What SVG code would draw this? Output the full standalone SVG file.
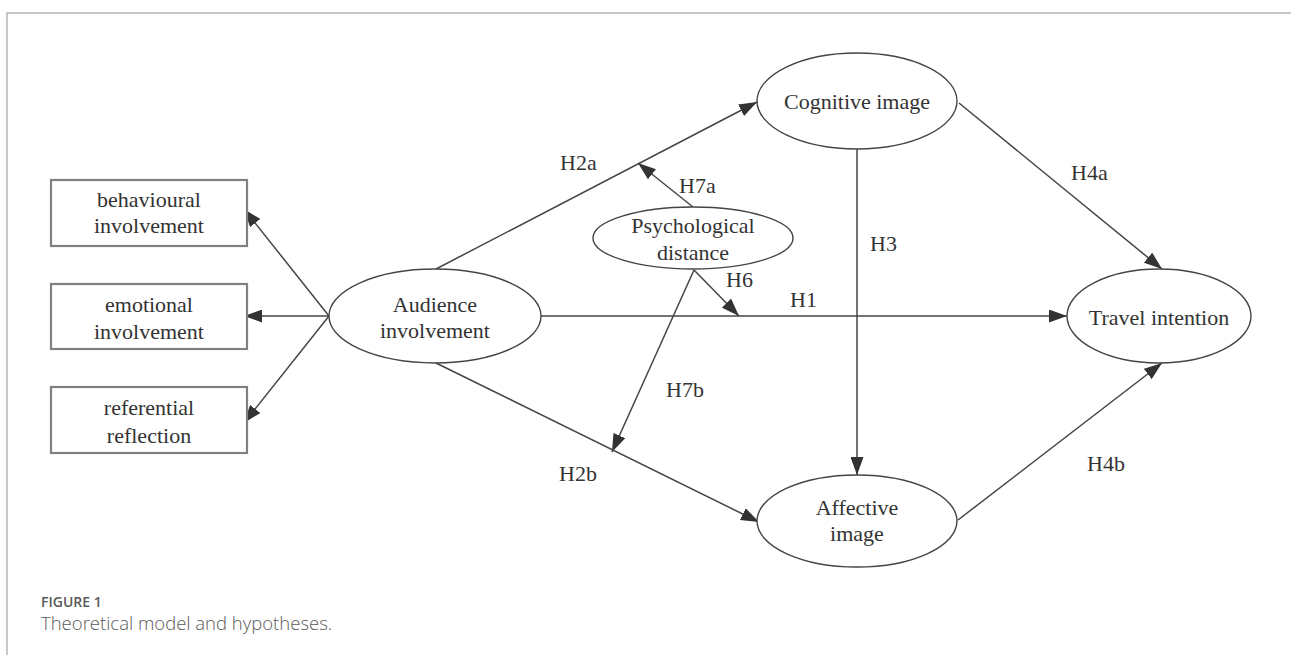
<svg xmlns="http://www.w3.org/2000/svg" width="1291" height="655" viewBox="0 0 1291 655">
<style>
.t{font-family:"Liberation Serif","Times New Roman",serif;font-size:22px;fill:#333;}
.c{text-anchor:middle;}
.box{fill:#fff;stroke:#808080;stroke-width:2.2;}
.ell{fill:#fff;stroke:#444;stroke-width:1.4;}
.ln{stroke:#444;stroke-width:1.5;fill:none;marker-end:url(#ah);}
.cap{font-family:"Open Sans","Liberation Sans",sans-serif;fill:#595959;}
</style>
<defs>
<marker id="ah" markerUnits="userSpaceOnUse" markerWidth="19" markerHeight="13" refX="18" refY="6.5" orient="auto">
<path d="M0,0 L18,6.5 L0,13 z" fill="#333"/>
</marker>
</defs>
<rect width="1291" height="655" fill="#fff"/>
<path d="M7,655 V13 H1291" fill="none" stroke="#b5b5b5" stroke-width="1.5"/>

<g id="connectors">
<line class="ln" x1="329" y1="316" x2="244" y2="209"/>
<line class="ln" x1="329" y1="316" x2="244" y2="316"/>
<line class="ln" x1="329" y1="316" x2="244" y2="423"/>
<line class="ln" x1="436" y1="269" x2="757" y2="102"/>
<line class="ln" x1="693" y1="207" x2="638" y2="163"/>
<line class="ln" x1="694" y1="270" x2="739" y2="316"/>
<line class="ln" x1="541" y1="316" x2="1067" y2="316"/>
<line class="ln" x1="857" y1="149" x2="857" y2="475"/>
<line class="ln" x1="959" y1="103" x2="1162" y2="269"/>
<line class="ln" x1="694" y1="270" x2="612" y2="452"/>
<line class="ln" x1="436" y1="363" x2="759" y2="522"/>
<line class="ln" x1="958" y1="520" x2="1162" y2="363"/>
<text class="t" x="560" y="170">H2a</text>
<text class="t" x="679" y="193">H7a</text>
<text class="t" x="726" y="287">H6</text>
<text class="t" x="790" y="307">H1</text>
<text class="t" x="870" y="251">H3</text>
<text class="t" x="1071" y="180">H4a</text>
<text class="t" x="666" y="397">H7b</text>
<text class="t" x="559" y="481">H2b</text>
<text class="t" x="1087" y="471">H4b</text>
</g>

<g id="behavioural">
<rect class="box" x="51" y="180" width="196" height="66"/>
<text class="t c" x="149" y="207">behavioural</text>
<text class="t c" x="149" y="233">involvement</text>
</g>
<g id="emotional">
<rect class="box" x="51" y="284" width="196" height="65"/>
<text class="t c" x="149" y="312">emotional</text>
<text class="t c" x="149" y="339">involvement</text>
</g>
<g id="referential">
<rect class="box" x="51" y="387" width="196" height="66"/>
<text class="t c" x="149" y="415">referential</text>
<text class="t c" x="149" y="443">reflection</text>
</g>
<g id="audience">
<ellipse class="ell" cx="435" cy="316" rx="106" ry="47"/>
<text class="t c" x="435" y="312">Audience</text>
<text class="t c" x="435" y="338">involvement</text>
</g>
<g id="psychological">
<ellipse class="ell" cx="693" cy="238" rx="100" ry="31"/>
<text class="t c" x="693" y="233">Psychological</text>
<text class="t c" x="693" y="260">distance</text>
</g>
<g id="cognitive">
<ellipse class="ell" cx="857" cy="101" rx="100" ry="48"/>
<text class="t c" x="857" y="109">Cognitive image</text>
</g>
<g id="affective">
<ellipse class="ell" cx="857" cy="521" rx="100" ry="46"/>
<text class="t c" x="857" y="515">Affective</text>
<text class="t c" x="857" y="541">image</text>
</g>
<g id="travel">
<ellipse class="ell" cx="1159" cy="316" rx="92" ry="47"/>
<text class="t c" x="1159" y="325">Travel intention</text>
</g>

<text class="cap" x="41" y="607" font-size="14" font-weight="600">FIGURE 1</text>
<text class="cap" x="41" y="630" font-size="18.5" font-weight="300">Theoretical model and hypotheses.</text>
</svg>
